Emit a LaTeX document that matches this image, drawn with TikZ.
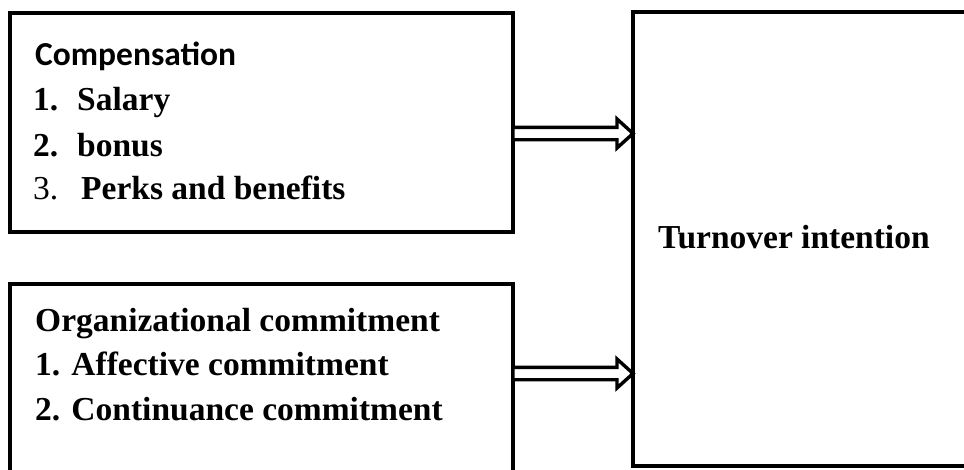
\documentclass[tikz,border=0pt]{standalone}
\usepackage{fontspec}
\setmainfont{Liberation Serif}
\newfontfamily\calfont{Carlito}
\usetikzlibrary{calc}
\begin{document}
\begin{tikzpicture}[x=1pt,y=-1pt,
  box/.style={draw=black,line width=3.5pt,inner sep=0pt,outer sep=0pt,anchor=north west},
  txt/.style={anchor=base west,inner sep=0pt,font=\fontsize{33.5}{40}\selectfont\bfseries},
  fat/.style={draw=black,line width=3.4pt,fill=white,line join=miter}]
\useasboundingbox (0,0) rectangle (964,469);
\clip (0,0) rectangle (964,469);
\node[box,minimum width=503pt,minimum height=219pt] (b1) at (10,13) {};
\node[box,minimum width=503pt,minimum height=200pt] (b2) at (10,284) {};
\node[box,minimum width=400pt,minimum height=454pt] (b3) at (633,12) {};
% texts
\node[txt,font=\fontsize{33.5}{40}\selectfont\calfont\bfseries] (t1) at (35,65) {Compensation};
\node[txt] (t2n) at (33,110) {1.};
\node[txt] (t2) at (77,110) {Salary};
\node[txt] (t3n) at (33,156) {2.};
\node[txt] (t3) at (77,156) {bonus};
\node[txt,font=\fontsize{33.5}{40}\selectfont] (t4n) at (33,199) {3.};
\node[txt] (t4) at (81,199) {Perks and benefits};
\node[txt] (u1) at (35,331) {Organizational commitment};
\node[txt] (u2) at (35,375) {1. Affective commitment};
\node[txt] (u3) at (35,420) {2. Continuance commitment};
\node[txt] (v1) at (658,248) {Turnover intention};
% arrows
\coordinate (a1) at (b1.east |- 0,133.5);
\coordinate (c1) at (b3.west |- 0,133.5);
\coordinate (a2) at (b2.east |- 0,373.5);
\coordinate (c2) at (b3.west |- 0,373.5);
\foreach \s/\e in {a1/c1,a2/c2}{
  \draw[fat] ($(\s)+(0,-6.2)$) -- ($(\e)+(-16,-6.2)$) -- ($(\e)+(-16,-14.5)$) -- (\e)
    -- ($(\e)+(-16,14.5)$) -- ($(\e)+(-16,6.2)$) -- ($(\s)+(0,6.2)$) -- cycle;
}
\end{tikzpicture}
\end{document}
